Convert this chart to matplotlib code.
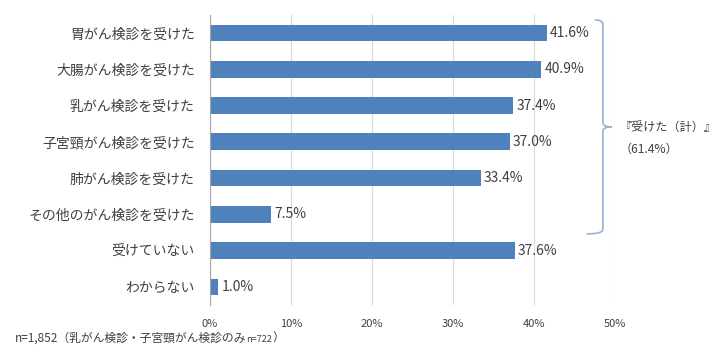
#!/usr/bin/env python3
"""Bar chart: cancer screening participation (horizontal bars)."""

import matplotlib.pyplot as plt
from matplotlib.path import Path
from matplotlib.patches import PathPatch

plt.rcParams["font.family"] = ["Noto Sans CJK JP", "DejaVu Sans"]

categories = [
    "胃がん検診を受けた",
    "大腸がん検診を受けた",
    "乳がん検診を受けた",
    "子宮頸がん検診を受けた",
    "肺がん検診を受けた",
    "その他のがん検診を受けた",
    "受けていない",
    "わからない",
]
values = [41.6, 40.9, 37.4, 37.0, 33.4, 7.5, 37.6, 1.0]
xticks = [0, 10, 20, 30, 40, 50]
total_label = "『受けた（計）』"
total_value = "（61.4%）"

BAR = "#4F81BD"
TXT = "#404040"


def main():
    fig = plt.figure(figsize=(7.2, 3.53), dpi=100)
    ax = fig.add_axes([0.2917, 0.136, 0.5625, 0.822])

    y = list(range(len(categories)))
    ax.barh(y, values, height=0.46, color=BAR, zorder=3)
    for yi, v in zip(y, values):
        ax.text(v + 0.4, yi, f"{v:.1f}%", va="center", ha="left",
                fontsize=10, color=TXT, zorder=4)

    ax.set_xlim(0, 50)
    ax.set_ylim(len(categories) - 0.5, -0.5)
    ax.set_yticks(y)
    ax.set_yticklabels(categories, fontsize=10, color=TXT)
    ax.set_xticks(xticks)
    ax.set_xticklabels([f"{t}%" for t in xticks], fontsize=8, color=TXT)
    ax.tick_params(axis="y", length=0, pad=11)
    ax.tick_params(axis="x", length=0, pad=10)
    ax.grid(axis="x", color="#D9D9D9", linewidth=0.8, zorder=0)
    for s in ["top", "right", "bottom"]:
        ax.spines[s].set_visible(False)
    ax.spines["left"].set_color("#A6A6A6")
    ax.spines["left"].set_zorder(5)

    # curly brace grouping the first six rows
    xv, xl, xb, xt = 48.5, 47.5, 46.5, 49.6
    top, mid, bot = -0.36, 2.59, 5.54
    ry = 0.12
    verts = [
        (xl, top), (xv, top), (xv, top + ry),
        (xv, mid - ry), (xv, mid), (xt, mid),
        (xt, mid), (xv, mid), (xv, mid + ry),
        (xv, bot - ry), (xv, bot), (xb, bot),
    ]
    codes = [
        Path.MOVETO, Path.CURVE3, Path.CURVE3,
        Path.LINETO, Path.CURVE3, Path.CURVE3,
        Path.MOVETO, Path.CURVE3, Path.CURVE3,
        Path.LINETO, Path.CURVE3, Path.CURVE3,
    ]
    ax.add_patch(PathPatch(Path(verts, codes), fill=False, edgecolor="#95B3D7",
                           linewidth=1.2, clip_on=False, zorder=6))
    ax.text(50.6, 2.62, total_label, fontsize=8.7, color=TXT, va="center",
            ha="left", clip_on=False)
    ax.text(50.6, 3.2, total_value, fontsize=8.7, color=TXT, va="center",
            ha="left", clip_on=False)

    t1 = fig.text(0.021, 0.025, "n=1,852（乳がん検診・子宮頸がん検診のみ",
                  fontsize=8.5, color=TXT, va="bottom")
    t2 = ax.annotate("n=722", xy=(1, 0), xycoords=t1, fontsize=6.5,
                     color=TXT, va="bottom", annotation_clip=False)
    ax.annotate("）", xy=(1, 0), xycoords=t2, fontsize=8.5, color=TXT,
                va="bottom", annotation_clip=False)

    fig.savefig("out.png", dpi=100)
    plt.close(fig)


if __name__ == "__main__":
    main()
